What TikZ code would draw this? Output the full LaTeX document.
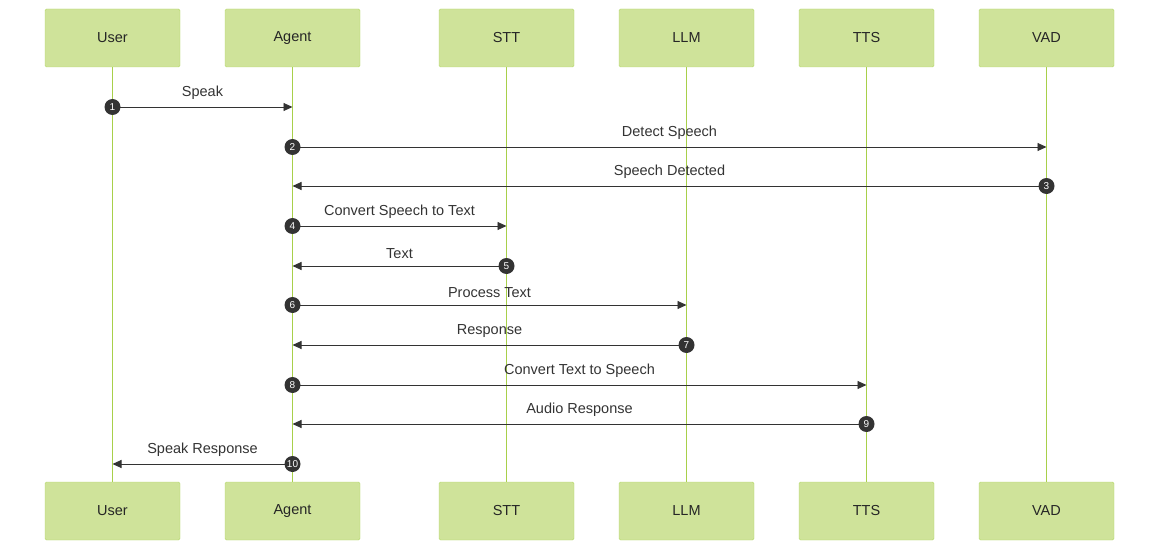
\documentclass[tikz,border=0pt]{standalone}
\usepackage{fontspec}
\setmainfont{Liberation Sans}
\usetikzlibrary{arrows.meta,calc}
\definecolor{boxfill}{HTML}{CFE39A}
\definecolor{boxline}{HTML}{B5D96A}
\definecolor{life}{HTML}{A8D04A}
\definecolor{ink}{HTML}{333333}
\tikzset{
  actor/.style={draw=boxline, fill=boxfill, rounded corners=1.5pt, minimum width=135pt, minimum height=58pt, font=\fontsize{14.5}{16}\selectfont, text=black!85},
  num/.style={circle, fill=ink, text=white, inner sep=0pt, minimum size=16pt, font=\fontsize{10}{11}\selectfont},
  msg/.style={draw=ink, line width=0.9pt, -{Triangle[length=9pt,width=8pt]}},
  lbl/.style={font=\fontsize{14.5}{16}\selectfont, text=ink}
}
\begin{document}
\begin{tikzpicture}[x=1pt,y=-1pt]
  \useasboundingbox (0,0) rectangle (1160,551);
  % lifelines
  \foreach \name/\x in {User/112.5,Agent/292.5,STT/506.5,LLM/686.5,TTS/866.5,VAD/1046.5}{
    \draw[life, line width=1.5pt] (\x,38) -- (\x,511);
    \node[actor] (\name-top) at (\x,38) {\name};
    \node[actor] (\name-bot) at (\x,511) {\name};
    \coordinate (\name) at (\x,0);
  }
  % messages: from/to/y/number/text
  \foreach \from/\to/\y/\n/\txt in {
      User/Agent/107/1/Speak,
      Agent/VAD/147/2/Detect Speech,
      VAD/Agent/186/3/Speech Detected,
      Agent/STT/226/4/Convert Speech to Text,
      STT/Agent/266/5/Text,
      Agent/LLM/305/6/Process Text,
      LLM/Agent/345/7/Response,
      Agent/TTS/385/8/Convert Text to Speech,
      TTS/Agent/424/9/Audio Response,
      Agent/User/464/10/Speak Response}{
    \coordinate (s) at ($(\from)+(0,\y)$);
    \coordinate (t) at ($(\to)+(0,\y)$);
    \draw[msg] (s) -- (t);
    \node[lbl, anchor=south] at ($(s)!0.5!(t)+(0,-4)$) {\txt};
    \node[num] (m\n) at (s) {\n};
  }
\end{tikzpicture}
\end{document}
